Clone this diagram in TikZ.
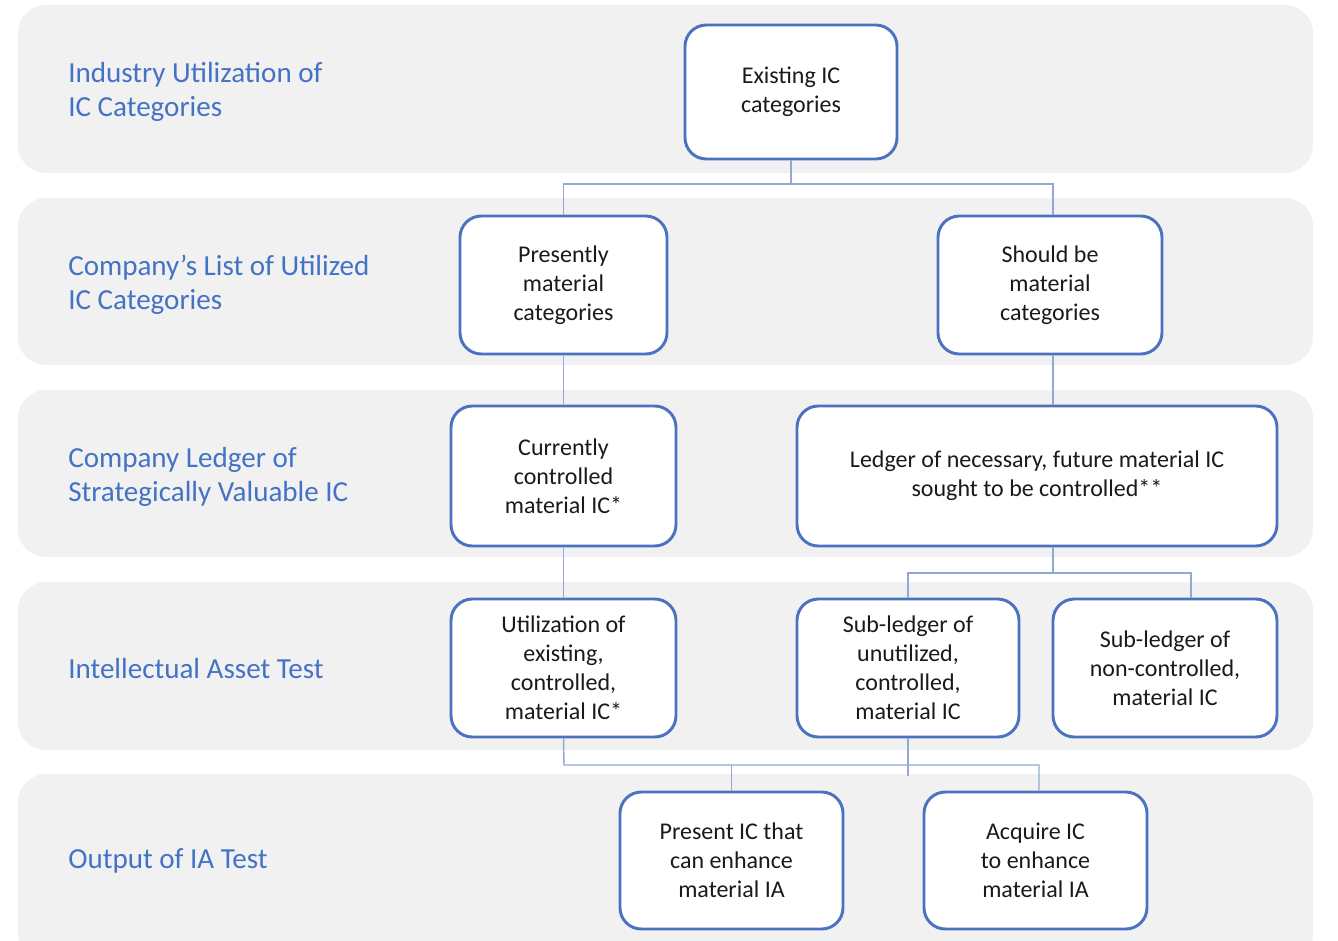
\documentclass[tikz,border=0pt]{standalone}
\usepackage{fontspec}
\setmainfont{Carlito}
\definecolor{bandc}{HTML}{F1F1F1}
\definecolor{boxline}{HTML}{4A72C0}
\definecolor{connc}{HTML}{92A9D6}
\definecolor{lanec}{HTML}{4472C4}
\definecolor{boxtext}{HTML}{1A1A1A}
\tikzset{
  band/.style={fill=bandc, draw=none, rounded corners=21pt},
  lanelabel/.style={anchor=west, text=lanec, font=\fontsize{21.8}{25.5}\selectfont, align=left, inner sep=0pt},
  icbox/.style={draw=boxline, line width=2.2pt, fill=white, rounded corners=16pt, align=center, text=boxtext, font=\fontsize{18}{21.75}\selectfont, inner sep=0pt},
  connline/.style={draw=connc, line width=1.1pt},
}
\begin{document}
\begin{tikzpicture}[x=0.75pt,y=-0.75pt]
\useasboundingbox (0,0) rectangle (1338,940);
\fill[white] (0,0) rectangle (1338,940);
% bands
\path[band] (18,5) rectangle (1313,173);
\path[band] (18,198) rectangle (1313,365);
\path[band] (18,390) rectangle (1313,557);
\path[band] (18,582) rectangle (1313,750);
\path[band] (18,774) rectangle (1313,962);
% lane labels
\node[lanelabel] (l1) at (68,92) {Industry Utilization of\\IC Categories};
\node[lanelabel] (l2) at (68,285) {Company’s List of Utilized\\IC Categories};
\node[lanelabel] (l3) at (68,477) {Company Ledger of\\Strategically Valuable IC};
\node[lanelabel] (l4) at (68,669) {Intellectual Asset Test};
\node[lanelabel] (l5) at (68,861) {Output of IA Test};
% boxes
\node[icbox, minimum width=159pt, minimum height=100.5pt] (exist) at (791,92) {Existing IC\\categories};
\node[icbox, minimum width=155.25pt, minimum height=103.5pt] (pres) at (563.5,285) {Presently\\material\\categories};
\node[icbox, minimum width=168pt, minimum height=103.5pt] (should) at (1050,285) {Should be\\material\\categories};
\node[icbox, minimum width=168.75pt, minimum height=105pt] (curr) at (563.5,476) {Currently\\controlled\\material IC*};
\node[icbox, minimum width=360pt, minimum height=105pt] (ledger) at (1037,476) {Ledger of necessary, future material IC\\sought to be controlled**};
\node[icbox, minimum width=168.75pt, minimum height=103.5pt] (util) at (563.5,668) {Utilization of\\existing,\\controlled,\\material IC*};
\node[icbox, minimum width=166.5pt, minimum height=103.5pt] (subu) at (908,668) {Sub-ledger of\\unutilized,\\controlled,\\material IC};
\node[icbox, minimum width=168pt, minimum height=103.5pt] (subn) at (1165,668) {Sub-ledger of\\non-controlled,\\material IC};
\node[icbox, minimum width=167.25pt, minimum height=102.75pt] (presia) at (731.5,860.5) {Present IC that\\can enhance\\material IA};
\node[icbox, minimum width=167.25pt, minimum height=102.75pt] (acq) at (1035.5,860.5) {Acquire IC\\to enhance\\material IA};
% junction coordinates
\coordinate (j1) at (791,184);
\coordinate (j2) at (1053,573);
\coordinate (j2r) at (1191,573);
\coordinate (j3) at (564,765);
\coordinate (j3r) at (1039,765);
\coordinate (j4) at (908,776);
% connectors
\draw[connline] (exist.south) -- (j1);
\draw[connline] (j1) -| (pres.north);
\draw[connline] (j1) -| ([xshift=2.25pt]should.north);
\draw[connline] ([xshift=2.25pt]should.south) -- ([xshift=2.25pt]should.south |- ledger.north);
\draw[connline] (pres.south) -- (curr.north);
\draw[connline] (curr.south) -- (util.north);
\draw[connline] (j2 |- ledger.south) -- (j2) -| (subu.north);
\draw[connline] (j2) -- (j2r) -- (j2r |- subn.north);
\draw[connline] (util.south) -- (j3) -- (j3r) -- (j3r |- acq.north);
\draw[connline] (j3 -| presia.north) -- (presia.north);
\draw[connline] (subu.south) -- (j4);
\end{tikzpicture}
\end{document}
